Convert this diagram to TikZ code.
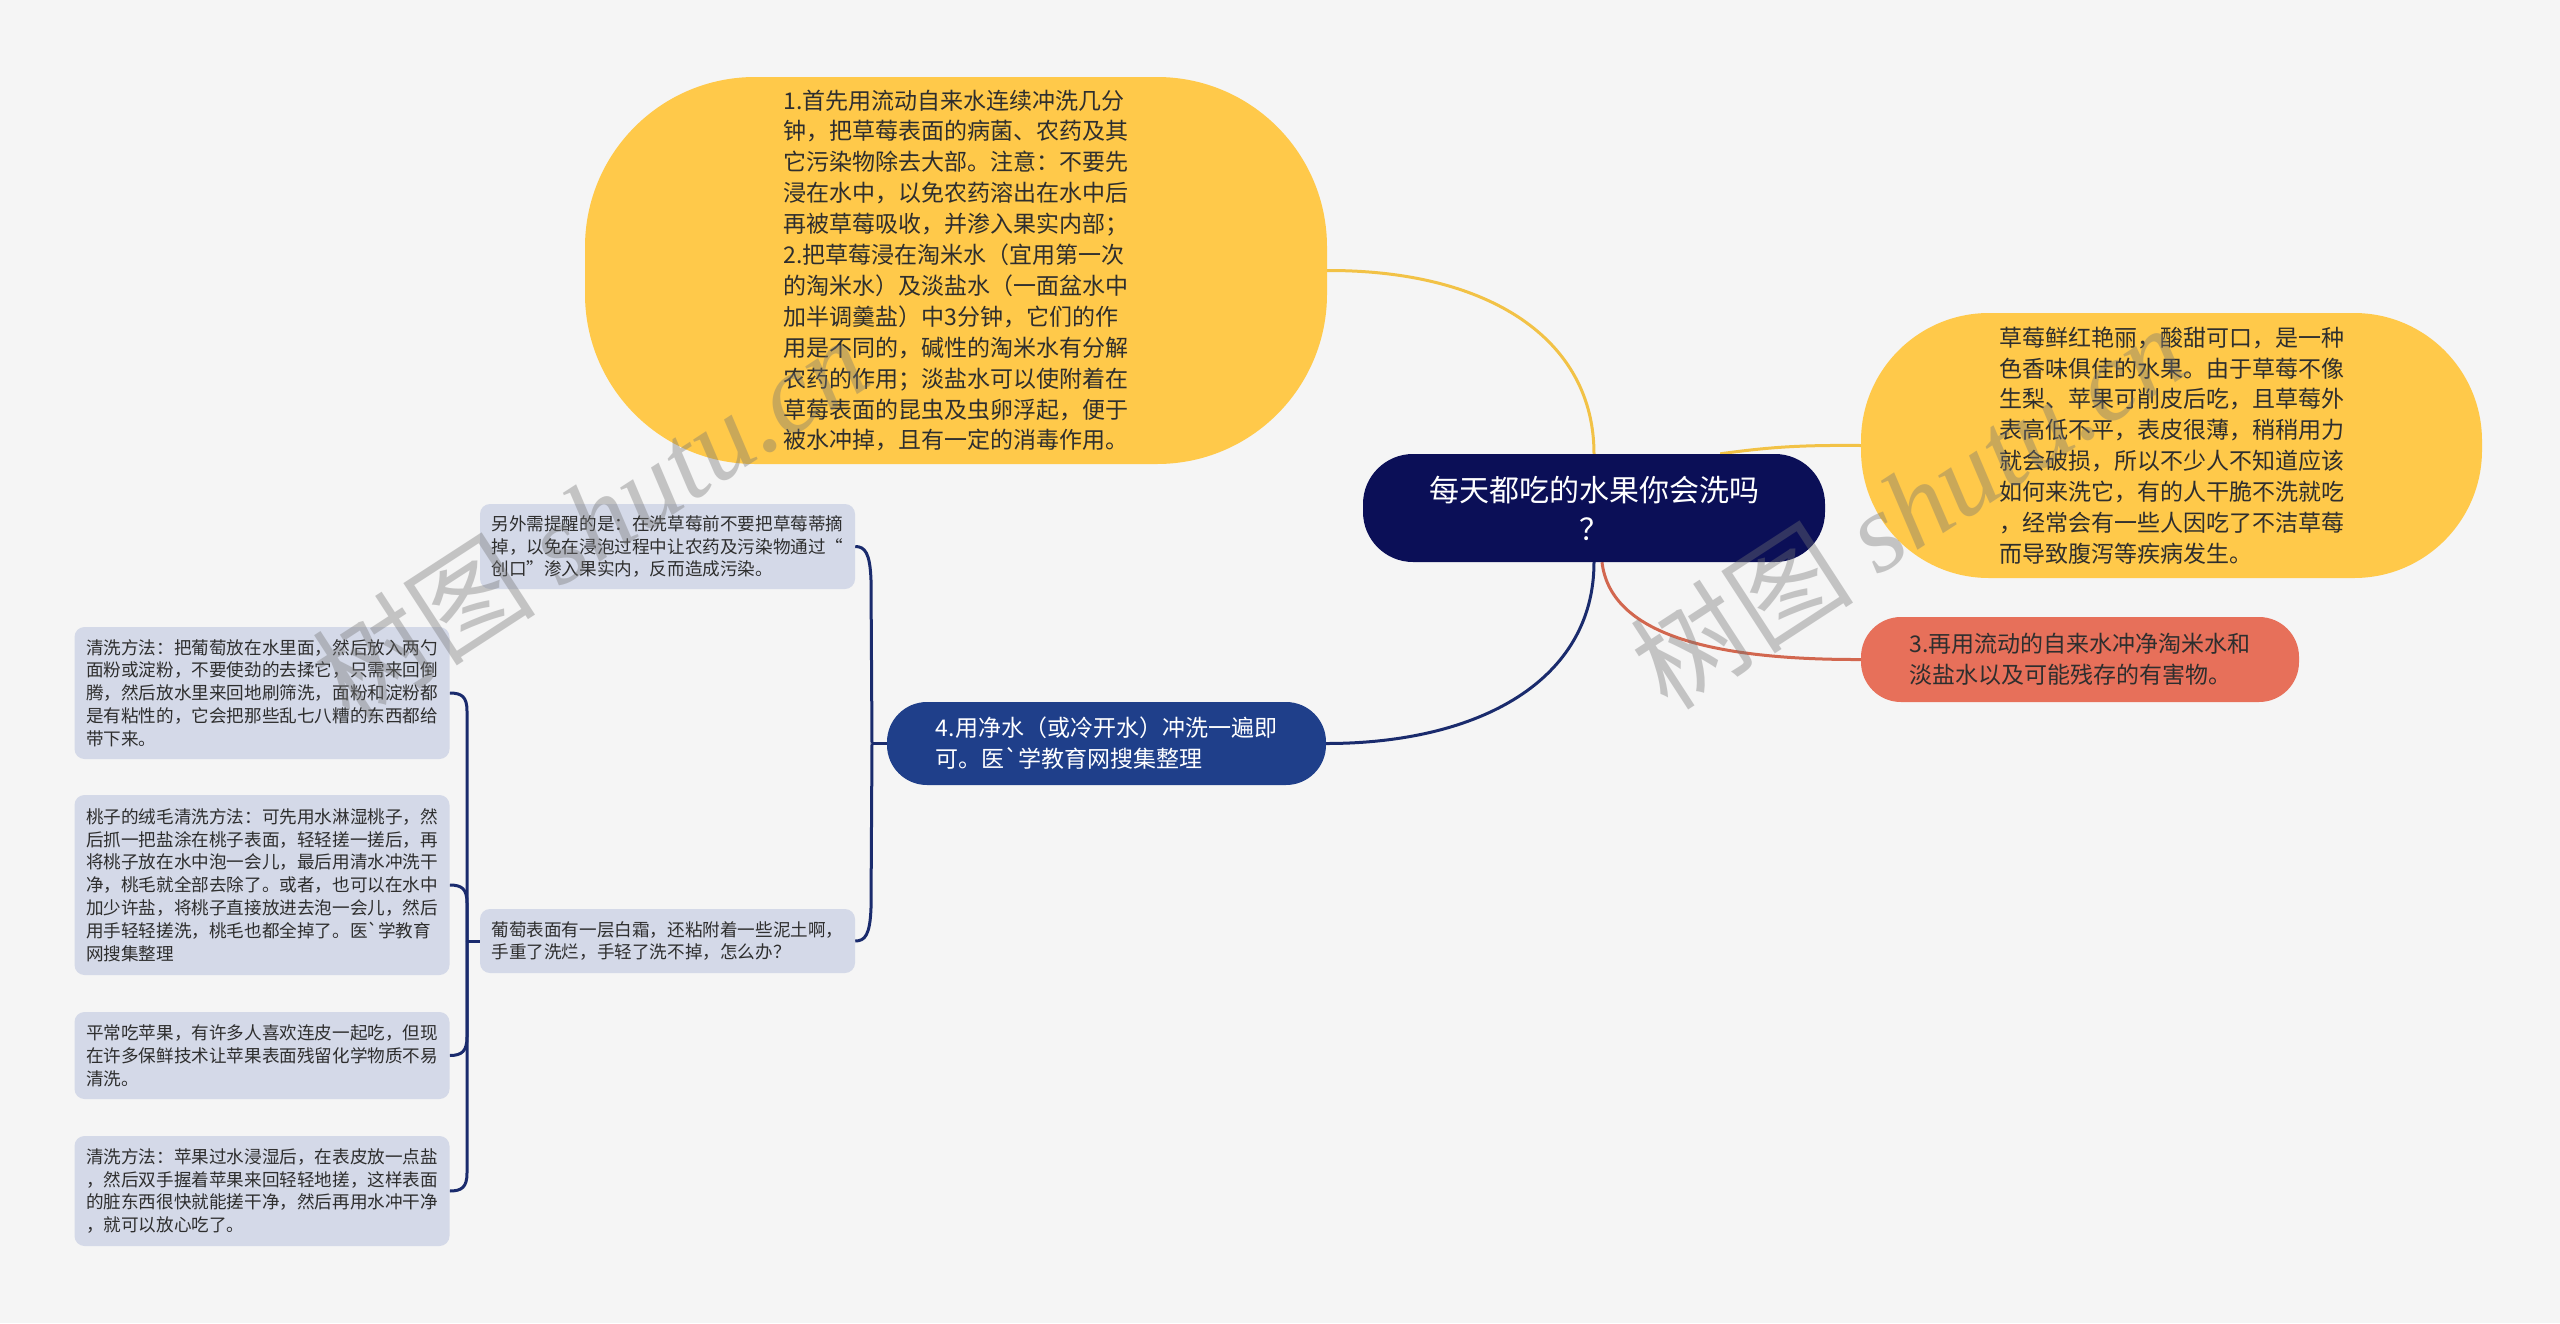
\documentclass[tikz,border=0pt]{standalone}
\usepackage{fontspec}
\setmainfont{Noto Sans CJK SC}
\newfontfamily\wmserif{Liberation Serif}
\newfontfamily\wmcjk{Noto Sans CJK SC}
\usetikzlibrary{calc}
\pgfdeclarelayer{bgl}
\pgfdeclarelayer{edges}
\pgfdeclarelayer{wm}
\pgfsetlayers{bgl,edges,main,wm}
\definecolor{bgc}{HTML}{F5F5F5}
\definecolor{yelc}{HTML}{FFC94A}
\definecolor{navyc}{HTML}{0B0F57}
\definecolor{bluec}{HTML}{1F3F8A}
\definecolor{redc}{HTML}{E7705A}
\definecolor{grayc}{HTML}{D4D9E8}
\definecolor{txtc}{HTML}{2E2E2E}
\definecolor{ylinec}{HTML}{F2C246}
\definecolor{rlinec}{HTML}{D2674F}
\definecolor{nlinec}{HTML}{1A2B6D}
\tikzset{
  yelnode/.style={fill=yelc, draw=none, inner sep=0pt, align=left, text=txtc,
    font=\fontsize{23}{30.9}\selectfont},
  centralnode/.style={fill=navyc, draw=none, inner sep=0pt, align=center, text=white,
    rounded corners=50pt, font=\fontsize{30}{39}\selectfont},
  rednode/.style={fill=redc, draw=none, inner sep=0pt, align=left, text=txtc,
    rounded corners=40pt, font=\fontsize{23}{31}\selectfont},
  bluenode/.style={fill=bluec, draw=none, inner sep=0pt, align=left, text=white,
    rounded corners=40pt, font=\fontsize{23}{31}\selectfont},
  gbox/.style={fill=grayc, draw=none, inner sep=0pt, align=left, text=txtc,
    rounded corners=10pt, minimum width=375pt, font=\fontsize{17.6}{22.8}\selectfont},
  yline/.style={draw=ylinec, line width=3pt},
  rline/.style={draw=rlinec, line width=3pt},
  nline/.style={draw=nlinec, line width=3pt},
  wmark/.style={text=black!55, opacity=0.38, inner sep=0pt, font=\fontsize{112}{112}\selectfont}
}
\begin{document}
\begin{tikzpicture}[x=1pt,y=-1pt]
\useasboundingbox (0,0) rectangle (2560,1323);
\begin{pgfonlayer}{bgl}
\fill[bgc] (0,0) rectangle (2560,1323);
\end{pgfonlayer}

% nodes
\node[yelnode, rounded corners=170pt, minimum width=742pt, minimum height=387pt] (t) at (956,270.5)
{1.首先用流动自来水连续冲洗几分\\钟，把草莓表面的病菌、农药及其\\它污染物除去大部。注意：不要先\\浸在水中，以免农药溶出在水中后\\再被草莓吸收，并渗入果实内部；\\2.把草莓浸在淘米水（宜用第一次\\的淘米水）及淡盐水（一面盆水中\\加半调羹盐）中3分钟，它们的作\\用是不同的，碱性的淘米水有分解\\农药的作用；淡盐水可以使附着在\\草莓表面的昆虫及虫卵浮起，便于\\被水冲掉，且有一定的消毒作用。};

\node[yelnode, rounded corners=128pt, minimum width=621pt, minimum height=265pt] (r) at (2171.5,445.5)
{草莓鲜红艳丽，酸甜可口，是一种\\色香味俱佳的水果。由于草莓不像\\生梨、苹果可削皮后吃，且草莓外\\表高低不平，表皮很薄，稍稍用力\\就会破损，所以不少人不知道应该\\如何来洗它，有的人干脆不洗就吃\\，经常会有一些人因吃了不洁草莓\\而导致腹泻等疾病发生。};

\node[centralnode, minimum width=462pt, minimum height=108pt] (c) at (1594,508)
{每天都吃的水果你会洗吗\\？};

\node[rednode, minimum width=438pt, minimum height=85pt] (rd) at (2080,659.5)
{3.再用流动的自来水冲净淘米水和\\淡盐水以及可能残存的有害物。};

\node[bluenode, minimum width=439pt, minimum height=83pt] (b) at (1106.5,743.5)
{4.用净水（或冷开水）冲洗一遍即\\可。医\textasciigrave 学教育网搜集整理};

\node[gbox, minimum height=85pt] (ga) at (667.5,546.5)
{另外需提醒的是：在洗草莓前不要把草莓蒂摘\\掉，以免在浸泡过程中让农药及污染物通过“\\创口”渗入果实内，反而造成污染。};

\node[gbox, minimum height=64pt] (gb) at (667.5,941)
{葡萄表面有一层白霜，还粘附着一些泥土啊，\\手重了洗烂，手轻了洗不掉，怎么办？};

\node[gbox, minimum height=132pt] (gc) at (262,693)
{清洗方法：把葡萄放在水里面，然后放入两勺\\面粉或淀粉，不要使劲的去揉它，只需来回倒\\腾，然后放水里来回地刷筛洗，面粉和淀粉都\\是有粘性的，它会把那些乱七八糟的东西都给\\带下来。};

\node[gbox, minimum height=180pt] (gd) at (262,885)
{桃子的绒毛清洗方法：可先用水淋湿桃子，然\\后抓一把盐涂在桃子表面，轻轻搓一搓后，再\\将桃子放在水中泡一会儿，最后用清水冲洗干\\净，桃毛就全部去除了。或者，也可以在水中\\加少许盐，将桃子直接放进去泡一会儿，然后\\用手轻轻搓洗，桃毛也都全掉了。医\textasciigrave 学教育\\网搜集整理};

\node[gbox, minimum height=87pt] (ge) at (262,1055.5)
{平常吃苹果，有许多人喜欢连皮一起吃，但现\\在许多保鲜技术让苹果表面残留化学物质不易\\清洗。};

\node[gbox, minimum height=110pt] (gf) at (262,1191)
{清洗方法：苹果过水浸湿后，在表皮放一点盐\\，然后双手握着苹果来回轻轻地搓，这样表面\\的脏东西很快就能搓干净，然后再用水冲干净\\，就可以放心吃了。};

\coordinate (bj) at (872,743.5);
\coordinate (lj) at (467,941);

% connectors
\begin{pgfonlayer}{edges}
\draw[yline] (t.east) .. controls (1490,270) and (1594,340) .. (c.north);
\draw[yline] ([xshift=-105pt]c.north east) .. controls (1770,447) and (1800,445) .. (r.west);
\draw[rline] ([xshift=8pt]c.south) .. controls (1610,630) and (1700,660) .. (rd.west);
\draw[nline] (c.south) .. controls (1594,680) and (1480,743.5) .. (b.east);

\draw[nline] (b.west) -- (bj);
\draw[nline] (bj) -- (871,580) .. controls (870,553) and (865,546.5) .. (ga.east);
\draw[nline] (bj) -- (871,908) .. controls (870,935) and (865,941) .. (gb.east);

\draw[nline] (gb.west) -- (lj);
\draw[nline] (lj) -- (467,711) .. controls (467,697) and (462,693) .. (gc.east);
\draw[nline] (lj) -- (467,903) .. controls (467,889) and (462,885) .. (gd.east);
\draw[nline] (lj) -- (467,1037) .. controls (467,1051) and (462,1055.5) .. (ge.east);
\draw[nline] (lj) -- (467,1173) .. controls (467,1187) and (462,1191) .. (gf.east);
\end{pgfonlayer}

% watermarks
\begin{pgfonlayer}{wm}
\node[wmark, rotate=33] (w1) at (590,518) {\wmcjk 树图 {\wmserif\itshape shutu.cn}};
\node[wmark, rotate=33] (w2) at (1908,506) {\wmcjk 树图 {\wmserif\itshape shutu.cn}};
\end{pgfonlayer}
\end{tikzpicture}
\end{document}
